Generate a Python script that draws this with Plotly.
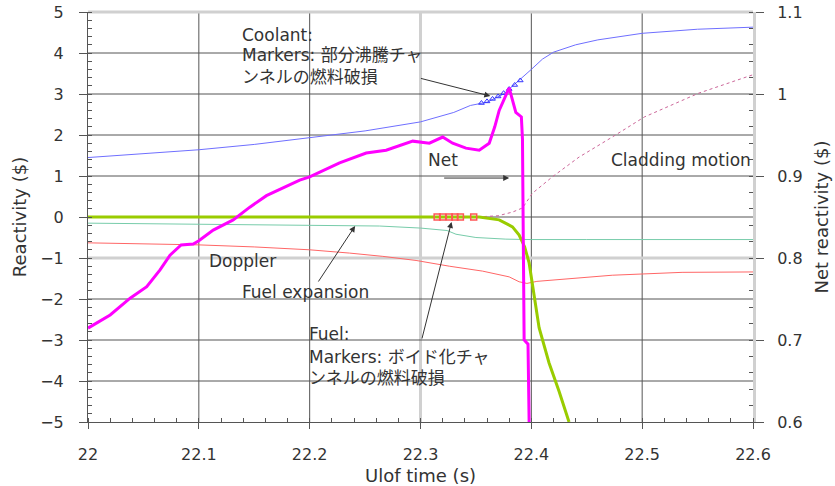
import plotly.graph_objects as go

# ---------------- data ----------------
# Net reactivity (right axis, $)
t_net = [22.0, 22.02, 22.038, 22.053, 22.065, 22.074, 22.084, 22.095, 22.1, 22.113,
         22.131, 22.146, 22.161, 22.176, 22.191, 22.2, 22.227, 22.251, 22.269, 22.293,
         22.308, 22.32, 22.329, 22.341, 22.353, 22.362, 22.367, 22.371, 22.376, 22.380,
         22.383, 22.386, 22.391, 22.392, 22.3935, 22.397, 22.398]
net = [0.7145, 0.7305, 0.751, 0.765, 0.7855, 0.8035, 0.816, 0.817, 0.821, 0.834,
       0.8465, 0.862, 0.876, 0.886, 0.895, 0.899, 0.916, 0.928, 0.9315, 0.9425,
       0.940, 0.9475, 0.940, 0.934, 0.9315, 0.940, 0.960, 0.980, 0.9965, 1.0075,
       0.9925, 0.9775, 0.972, 0.945, 0.700, 0.695, 0.600]

# Coolant reactivity (left axis, $)
t_cool = [22.0, 22.05, 22.1, 22.15, 22.2, 22.25, 22.3, 22.33, 22.345, 22.36,
          22.375, 22.39, 22.4, 22.41, 22.42, 22.44, 22.46, 22.5, 22.55, 22.6]
cool = [1.45, 1.55, 1.64, 1.77, 1.93, 2.10, 2.32, 2.55, 2.72, 2.80,
        3.00, 3.35, 3.60, 3.85, 4.02, 4.20, 4.32, 4.48, 4.58, 4.63]
t_cool_mk = [22.355, 22.36, 22.365, 22.37, 22.375, 22.38, 22.385, 22.39]
cool_mk = [2.78, 2.82, 2.88, 2.94, 3.02, 3.12, 3.22, 3.33]

# Fuel reactivity
t_fuel = [22.0, 22.2, 22.353, 22.371, 22.383, 22.389, 22.394, 22.398, 22.402,
          22.407, 22.416, 22.425, 22.434]
fuel = [0.0, 0.0, 0.0, -0.07, -0.24, -0.44, -0.73, -1.12, -1.85,
        -2.70, -3.56, -4.25, -5.0]
t_fuel_mk = [22.315, 22.320, 22.326, 22.331, 22.336, 22.348]
fuel_mk = [0.0, 0.0, 0.0, 0.0, 0.0, 0.0]

# Doppler
t_dop = [22.0, 22.1, 22.15, 22.2, 22.236, 22.266, 22.296, 22.326, 22.356, 22.38,
         22.389, 22.396, 22.405, 22.434, 22.473, 22.536, 22.6]
dop = [-0.63, -0.68, -0.73, -0.80, -0.88, -0.96, -1.06, -1.20, -1.32, -1.46,
       -1.58, -1.62, -1.57, -1.50, -1.42, -1.35, -1.34]

# Fuel expansion
t_fexp = [22.0, 22.1, 22.2, 22.263, 22.3, 22.324, 22.332, 22.35, 22.377, 22.4, 22.45, 22.6]
fexp = [-0.15, -0.17, -0.19, -0.22, -0.27, -0.33, -0.42, -0.50, -0.54, -0.55, -0.55, -0.55]

# Cladding motion
t_clad = [22.0, 22.35, 22.37, 22.383, 22.392, 22.401, 22.419, 22.443, 22.473,
          22.488, 22.502, 22.551, 22.6]
clad = [0.0, 0.0, 0.03, 0.12, 0.22, 0.58, 0.98, 1.46, 1.95, 2.20, 2.44, 3.02, 3.47]

# axis grid definitions
x_grid = [22.1, 22.2, 22.3, 22.4, 22.5]
x_grid_light = [22.3]
y_grid = [-4, -3, -2, -1, 0, 1, 2, 3, 4]
y_grid_light = [-1]

# ---------------- figure ----------------
FONT = "DejaVu Sans, Noto Sans CJK JP, sans-serif"
GRID = "#555555"
LIGHT = "#d0d0d0"

fig = go.Figure()
fig.add_trace(go.Scatter(x=t_clad, y=clad, mode="lines", name="Cladding motion",
                         line=dict(color="#cc6699", width=1, dash="dot")))
fig.add_trace(go.Scatter(x=t_fexp, y=fexp, mode="lines", name="Fuel expansion",
                         line=dict(color="#77ccaa", width=1)))
fig.add_trace(go.Scatter(x=t_dop, y=dop, mode="lines", name="Doppler",
                         line=dict(color="#ff6666", width=1)))
fig.add_trace(go.Scatter(x=t_cool, y=cool, mode="lines", name="Coolant",
                         line=dict(color="#6f6fff", width=1)))
fig.add_trace(go.Scatter(x=t_cool_mk, y=cool_mk, mode="markers", name="Coolant markers",
                         marker=dict(symbol="triangle-up-open", size=5,
                                     color="#3333ff", line=dict(width=1))))
fig.add_trace(go.Scatter(x=t_fuel, y=fuel, mode="lines", name="Fuel",
                         line=dict(color="#99cc00", width=3)))
fig.add_trace(go.Scatter(x=t_fuel_mk, y=fuel_mk, mode="markers", name="Fuel markers",
                         marker=dict(symbol="square-open", size=6,
                                     color="#ff5555", line=dict(width=1.5))))
fig.add_trace(go.Scatter(x=t_net, y=net, mode="lines", name="Net", yaxis="y2",
                         line=dict(color="#ff00ff", width=3)))

tickfont = dict(family=FONT, size=16, color="#333333")
titlefont = dict(family=FONT, size=18, color="#333333")

fig.update_layout(
    width=835, height=486,
    margin=dict(l=88, r=82, t=12, b=64),
    paper_bgcolor="white", plot_bgcolor="white",
    showlegend=False,
    font=dict(family=FONT, color="#333333"),
    xaxis=dict(
        range=[22, 22.6], tick0=22, dtick=0.1, automargin=False,
        showgrid=False, zeroline=False,
        showline=True, linecolor=GRID, linewidth=1,
        ticks="outside", ticklen=6, tickcolor=GRID, ticklabelstandoff=12,
        minor=dict(ticks="inside", dtick=0.02, ticklen=4, tickcolor=GRID, showgrid=False),
        tickfont=tickfont,
        title=dict(text="Ulof time (s)", font=titlefont, standoff=8),
    ),
    yaxis=dict(
        range=[-5, 5], tick0=0, dtick=1, automargin=False,
        showgrid=False, zeroline=False,
        showline=True, linecolor=GRID, linewidth=1,
        ticks="outside", ticklen=8, tickcolor=GRID, ticklabelstandoff=12,
        minor=dict(ticks="inside", dtick=0.2, ticklen=4, tickcolor=GRID, showgrid=False),
        tickfont=tickfont,
        title=dict(text="Reactivity ($)", font=titlefont, standoff=8),
    ),
    yaxis2=dict(
        range=[0.6, 1.1], tick0=0.6, dtick=0.1, overlaying="y", side="right",
        automargin=False, showgrid=False, zeroline=False,
        showline=True, linecolor=LIGHT, linewidth=3,
        ticks="outside", ticklen=8, tickcolor=GRID, ticklabelstandoff=10,
        minor=dict(ticks="inside", dtick=0.02, ticklen=4, tickcolor=GRID, showgrid=False),
        tickfont=tickfont,
        title=dict(text="Net reactivity ($)", font=titlefont, standoff=14),
    ),
)

# grid lines (drawn beneath the data)
for gx in x_grid:
    light = gx in x_grid_light
    fig.add_shape(type="line", xref="x", yref="paper", x0=gx, x1=gx, y0=0, y1=1,
                  line=dict(color=LIGHT if light else GRID, width=3 if light else 1),
                  layer="below")
for gy in y_grid:
    light = gy in y_grid_light
    fig.add_shape(type="line", xref="paper", yref="y", x0=0, x1=1, y0=gy, y1=gy,
                  line=dict(color=LIGHT if light else GRID, width=3 if light else 1),
                  layer="below")
# light-grey top frame
fig.add_shape(type="line", xref="paper", yref="paper", x0=0, x1=1, y0=1, y1=1,
              line=dict(color=LIGHT, width=3), layer="below")

afont = dict(family=FONT, size=17, color="#333333")

def label(x, y, text, anchor="left"):
    fig.add_annotation(x=x, y=y, xref="x", yref="y", text=text, showarrow=False,
                       xanchor=anchor, yanchor="middle", font=afont)

def arrow(x_tail, y_tail, x_head, y_head):
    fig.add_annotation(x=x_head, y=y_head, ax=x_tail, ay=y_tail,
                       xref="x", yref="y", axref="x", ayref="y", text="",
                       showarrow=True, arrowhead=2, arrowsize=1.2, arrowwidth=1,
                       arrowcolor="#333333")

label(22.137, 4.44, "Coolant:")
label(22.137, 3.95, "Markers: 部分沸騰チャ")
label(22.137, 3.41, "ンネルの燃料破損")
arrow(22.299, 3.39, 22.363, 2.95)

label(22.305, 1.39, "Net")
arrow(22.320, 0.95, 22.380, 0.95)

label(22.6, 1.39, "Cladding motion", anchor="right")
label(22.107, -1.07, "Doppler")
label(22.137, -1.83, "Fuel expansion")
arrow(22.207, -1.61, 22.241, -0.22)

label(22.198, -2.85, "Fuel:")
label(22.198, -3.41, "Markers: ボイド化チャ")
label(22.198, -3.93, "ンネルの燃料破損")
arrow(22.301, -3.0, 22.328, -0.12)

fig.write_html("out.html")
